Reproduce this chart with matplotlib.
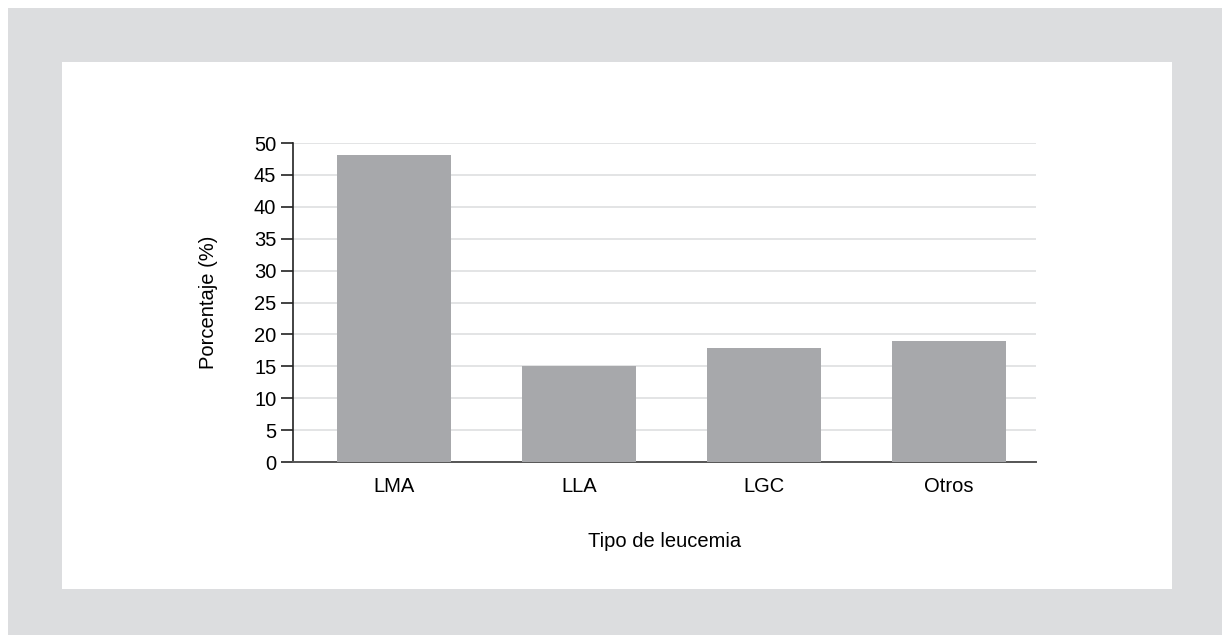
import matplotlib
matplotlib.use("Agg")
import matplotlib.pyplot as plt
from matplotlib.patches import Rectangle

# data
categories = ["LMA", "LLA", "LGC", "Otros"]
percentages = [48.1, 15.0, 17.9, 18.9]
yticks = list(range(0, 55, 5))

plt.rcParams["font.family"] = ["Liberation Sans", "DejaVu Sans"]

W, H = 1222, 635
fig = plt.figure(figsize=(W / 100, H / 100), dpi=100)
fig.patch.set_facecolor("white")

# gray frame with white inner panel (pixel coords -> figure fraction)
def frac_rect(x0, y0, x1, y1, color):
    fig.patches.append(Rectangle((x0 / W, 1 - y1 / H), (x1 - x0) / W, (y1 - y0) / H,
                                 transform=fig.transFigure, facecolor=color,
                                 edgecolor="none", zorder=-10))

frac_rect(8, 8, W, H, "#dcdddf")
frac_rect(62, 62, 1172, 589, "white")

ax = fig.add_axes([293 / W, 1 - 462 / H, (1036 - 293) / W, (462 - 143) / H])
ax.set_facecolor("none")

x = range(len(categories))
ax.bar(x, percentages, width=0.616, color="#a7a8ab", zorder=3)

fs = 14.5
ax.set_xlim(-0.546, 3.47)
ax.set_ylim(0, 50)
ax.set_yticks(yticks)
ax.set_xticks(list(x))
ax.set_xticklabels(categories, fontsize=fs)
ax.tick_params(axis="y", labelsize=fs, length=9, width=1.2, direction="out", pad=3, color="#222222")
ax.tick_params(axis="x", length=0, pad=11)

ax.grid(axis="y", color="#dedfe0", linewidth=1.2, zorder=0)
for s in ["top", "right"]:
    ax.spines[s].set_visible(False)
ax.spines["left"].set_color("#222222")
ax.spines["left"].set_linewidth(1.2)
ax.spines["bottom"].set_color("#555555")
ax.spines["bottom"].set_linewidth(1.4)

ax.set_ylabel("Porcentaje (%)", fontsize=fs, labelpad=26)
ax.set_xlabel("Tipo de leucemia", fontsize=fs, labelpad=26)

fig.savefig("out.png", dpi=100, facecolor=fig.get_facecolor())
